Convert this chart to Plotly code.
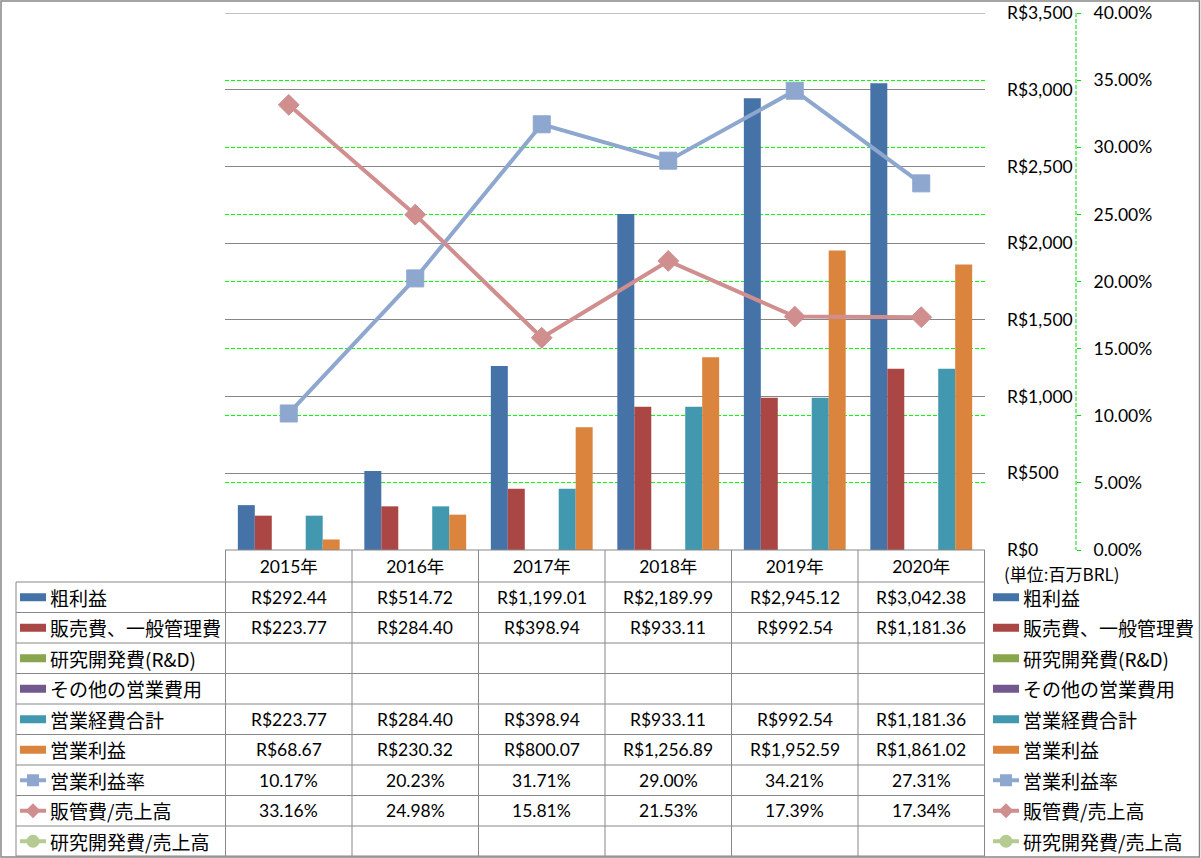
import plotly.graph_objects as go

W, H = 1201, 858

# ---------------- data ----------------
years = ["2015年", "2016年", "2017年", "2018年", "2019年", "2020年"]
gross_profit = [292.44, 514.72, 1199.01, 2189.99, 2945.12, 3042.38]
sga_expense = [223.77, 284.40, 398.94, 933.11, 992.54, 1181.36]
rnd_expense = [None, None, None, None, None, None]
other_opex = [None, None, None, None, None, None]
total_opex = [223.77, 284.40, 398.94, 933.11, 992.54, 1181.36]
operating_income = [68.67, 230.32, 800.07, 1256.89, 1952.59, 1861.02]
operating_margin = [10.17, 20.23, 31.71, 29.00, 34.21, 27.31]   # %
sga_to_sales = [33.16, 24.98, 15.81, 21.53, 17.39, 17.34]       # %
rnd_to_sales = [None, None, None, None, None, None]             # %

series_names = ["粗利益", "販売費、一般管理費", "研究開発費(R&D)", "その他の営業費用",
                "営業経費合計", "営業利益", "営業利益率", "販管費/売上高", "研究開発費/売上高"]
unit_label = "(単位:百万BRL)"

bar_colors = ["#4572A7", "#AA4643", "#89A54E", "#71588F", "#4198AF", "#DB843D"]
line_colors = ["#8EA7CF", "#D08E8E", "#B5CB92"]
marker_symbols = ["square", "diamond", "circle"]

bar_series = [gross_profit, sga_expense, rnd_expense, other_opex, total_opex, operating_income]
line_series = [operating_margin, sga_to_sales, rnd_to_sales]

Y1_MAX = 3500
Y2_MAX = 40

# ---------------- helpers ----------------
def fx(p):
    return p / W


def fy(p):
    return 1 - p / H


NUM_FONT = "Lato, 'Noto Sans CJK JP', sans-serif"
CJK_FONT = "'Noto Sans CJK JP', sans-serif"
GRID_GRAY = "#868686"
GREEN = "#00FF00"

fig = go.Figure()

for name, vals, col in zip(series_names[:6], bar_series, bar_colors):
    fig.add_trace(go.Bar(x=years, y=vals, name=name, marker=dict(color=col, line=dict(width=0)),
                         yaxis="y"))

for name, vals, col, sym in zip(series_names[6:], line_series, line_colors, marker_symbols):
    fig.add_trace(go.Scatter(
        x=years, y=vals, name=name, yaxis="y2", mode="lines+markers",
        line=dict(color=col, width=4),
        marker=dict(symbol=sym, size=17 if sym == "square" else 16, color=col,
                    line=dict(color=col, width=1)),
    ))

# ---------------- layout ----------------
PLOT_L, PLOT_R, PLOT_T, PLOT_B = 225, 985, 13, 550

fig.update_layout(
    width=W, height=H, autosize=False,
    margin=dict(l=0, r=0, t=0, b=0, pad=0, autoexpand=False),
    paper_bgcolor="white", plot_bgcolor="white",
    showlegend=False, barmode="group", bargap=0.195, bargroupgap=0,
    xaxis=dict(domain=[fx(PLOT_L), fx(PLOT_R)], showgrid=False, zeroline=False,
               showline=False, ticks="", anchor="y", automargin=False,
               ticklabelstandoff=4,
               tickfont=dict(family=NUM_FONT, size=17.5, color="#000")),
    yaxis=dict(domain=[fy(PLOT_B), fy(PLOT_T)], range=[0, Y1_MAX], dtick=500, tick0=0,
               side="right", anchor="free", position=fx(1006), automargin=False,
               showgrid=True, gridcolor=GRID_GRAY, gridwidth=1, zeroline=False,
               showline=False, ticks="", tickprefix="R$", tickformat=",d",
               tickfont=dict(family=NUM_FONT, size=17.5, color="#000")),
    yaxis2=dict(overlaying="y", range=[0, Y2_MAX], dtick=5, tick0=0,
                side="right", anchor="free", position=fx(1076), automargin=False,
                showgrid=True, gridcolor=GREEN, gridwidth=1, griddash="4px,2px",
                zeroline=False, showline=False, ticks="outside", ticklen=4,
                tickcolor="#00DD00", tickformat=".2f", ticksuffix="%",
                ticklabelstandoff=9,
                tickfont=dict(family=NUM_FONT, size=17.5, color="#000")),
)

shapes = []
annotations = []
LINE = dict(color="#888888", width=1)

# top gridline of the primary axis (at range max)
shapes.append(dict(type="line", xref="paper", yref="y", x0=fx(PLOT_L), x1=fx(PLOT_R),
                   y0=Y1_MAX, y1=Y1_MAX, line=dict(color=GRID_GRAY, width=1), layer="below"))

# secondary axis dashed line
shapes.append(dict(type="line", xref="paper", yref="paper", x0=fx(1076), x1=fx(1076),
                   y0=fy(PLOT_T), y1=fy(PLOT_B), line=dict(color="#00DD00", width=1, dash="4px,2px")))

# table geometry
HEADER_BOTTOM = 582
ROW_H = 30.5
N_ROWS = 9
TABLE_BOTTOM = 856

# top line of header (axis line)
shapes.append(dict(type="line", xref="paper", yref="paper", x0=fx(PLOT_L), x1=fx(PLOT_R),
                   y0=fy(PLOT_B), y1=fy(PLOT_B), line=LINE))
# horizontal row lines
for k in range(N_ROWS + 1):
    yy = HEADER_BOTTOM + ROW_H * k
    if k == N_ROWS:
        yy = TABLE_BOTTOM
    shapes.append(dict(type="line", xref="paper", yref="paper", x0=fx(16), x1=fx(PLOT_R),
                       y0=fy(yy), y1=fy(yy), line=LINE))
# vertical lines at category boundaries
for i in range(len(years) + 1):
    shapes.append(dict(type="line", xref="x", yref="paper", x0=i - 0.5, x1=i - 0.5,
                       y0=fy(PLOT_B), y1=fy(TABLE_BOTTOM), line=LINE))
# left legend column line
shapes.append(dict(type="line", xref="paper", yref="paper", x0=fx(16), x1=fx(16),
                   y0=fy(HEADER_BOTTOM), y1=fy(TABLE_BOTTOM), line=LINE))
# outer border
shapes.append(dict(type="rect", xref="paper", yref="paper", x0=fx(1), x1=fx(1199.5),
                   y0=fy(857), y1=fy(1), line=dict(color=GRID_GRAY, width=1.5)))


def money(v):
    return f"R${v:,.2f}"


def pct(v):
    return f"{v:.2f}%"


all_series = bar_series + line_series
formatters = [money] * 6 + [pct] * 3

for k, (vals, fmt) in enumerate(zip(all_series, formatters)):
    yc = HEADER_BOTTOM + ROW_H * k + ROW_H / 2
    for i, v in enumerate(vals):
        if v is None:
            continue
        annotations.append(dict(x=years[i], xref="x", y=fy(yc), yref="paper", text=fmt(v),
                                showarrow=False, xanchor="center", yanchor="middle",
                                font=dict(family=NUM_FONT, size=17.5, color="#000")))


def legend_key(x0, yc, k):
    x1 = x0 + 26
    if k < 6:
        shapes.append(dict(type="rect", xref="paper", yref="paper", x0=fx(x0), x1=fx(x1),
                           y0=fy(yc + 4), y1=fy(yc - 4), fillcolor=bar_colors[k],
                           line=dict(width=0)))
    else:
        col = line_colors[k - 6]
        sym = marker_symbols[k - 6]
        shapes.append(dict(type="line", xref="paper", yref="paper", x0=fx(x0), x1=fx(x1),
                           y0=fy(yc), y1=fy(yc), line=dict(color=col, width=4)))
        cx = (x0 + x1) / 2
        if sym == "square":
            r = 6
            shapes.append(dict(type="rect", xref="paper", yref="paper", x0=fx(cx - r), x1=fx(cx + r),
                               y0=fy(yc + r), y1=fy(yc - r), fillcolor=col, line=dict(width=0)))
        elif sym == "diamond":
            r = 7.5
            path = (f"M {fx(cx - r)} {fy(yc)} L {fx(cx)} {fy(yc - r)} "
                    f"L {fx(cx + r)} {fy(yc)} L {fx(cx)} {fy(yc + r)} Z")
            shapes.append(dict(type="path", xref="paper", yref="paper", path=path,
                               fillcolor=col, line=dict(width=0)))
        else:
            r = 6.5
            shapes.append(dict(type="circle", xref="paper", yref="paper", x0=fx(cx - r), x1=fx(cx + r),
                               y0=fy(yc + r), y1=fy(yc - r), fillcolor=col, line=dict(width=0)))


for k, name in enumerate(series_names):
    yc = HEADER_BOTTOM + ROW_H * k + ROW_H / 2
    for kx, tx in ((20, 48), (993, 1021)):
        legend_key(kx, yc, k)
        annotations.append(dict(x=fx(tx), xref="paper", y=fy(yc), yref="paper", text=name,
                                showarrow=False, xanchor="left", yanchor="middle",
                                font=dict(family=CJK_FONT, size=19, color="#000")))

annotations.append(dict(x=fx(1002), xref="paper", y=fy(573), yref="paper", text=unit_label,
                        showarrow=False, xanchor="left", yanchor="middle",
                        font=dict(family=CJK_FONT, size=17, color="#000")))

fig.update_layout(shapes=shapes, annotations=annotations)

fig.write_html("out.html", config={"displayModeBar": False},
               post_script="document.body.style.margin='0px';document.body.style.overflow='hidden';")
